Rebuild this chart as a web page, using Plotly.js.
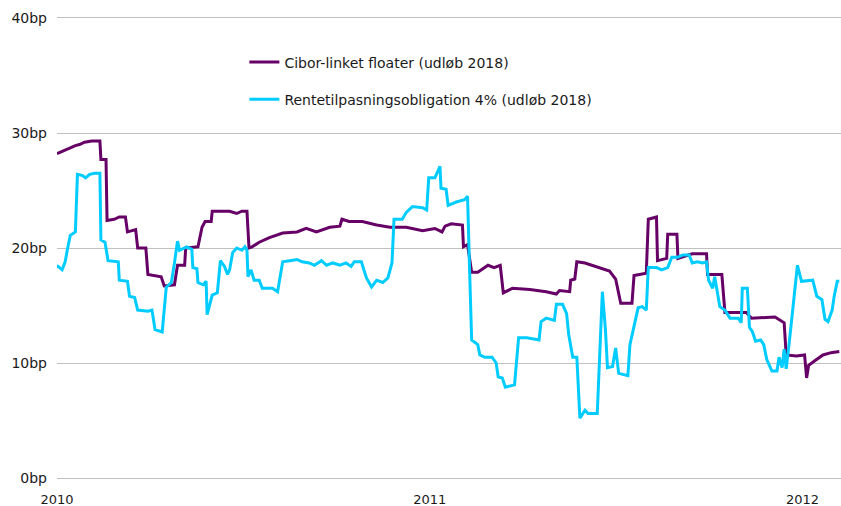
<!DOCTYPE html>
<html>
<head>
<meta charset="utf-8">
<script src="https://cdn.plot.ly/plotly-3.0.1.min.js"></script>
<style>html,body{margin:0;padding:0;background:#fff;}#chart{width:841px;height:506px;}</style>
</head>
<body>
<div id="chart"></div>
<script>
const ciborName = 'Cibor-linket floater (udløb 2018)';
const rteName = 'Rentetilpasningsobligation 4% (udløb 2018)';

const ciborDates = ['2010-01-01','2010-01-04','2010-01-09','2010-01-14','2010-01-19','2010-01-23','2010-01-28','2010-02-04','2010-02-12','2010-02-13','2010-02-18','2010-02-19','2010-02-26','2010-03-03','2010-03-09','2010-03-11','2010-03-19','2010-03-21','2010-03-29','2010-03-31','2010-04-13','2010-04-16','2010-04-26','2010-04-29','2010-05-06','2010-05-07','2010-05-19','2010-05-23','2010-05-26','2010-06-01','2010-06-02','2010-06-11','2010-06-19','2010-06-26','2010-07-01','2010-07-06','2010-07-08','2010-07-11','2010-07-18','2010-07-28','2010-08-10','2010-08-24','2010-09-02','2010-09-12','2010-09-25','2010-10-05','2010-10-07','2010-10-14','2010-10-27','2010-11-10','2010-11-23','2010-12-09','2010-12-25','2011-01-06','2011-01-13','2011-01-16','2011-01-22','2011-02-02','2011-02-03','2011-02-07','2011-02-11','2011-02-17','2011-02-27','2011-03-05','2011-03-11','2011-03-14','2011-03-23','2011-04-09','2011-04-25','2011-05-05','2011-05-08','2011-05-18','2011-05-19','2011-05-23','2011-05-25','2011-06-02','2011-06-09','2011-06-19','2011-06-26','2011-07-02','2011-07-07','2011-07-18','2011-07-20','2011-08-01','2011-08-03','2011-08-11','2011-08-12','2011-08-21','2011-08-22','2011-08-31','2011-09-01','2011-09-15','2011-09-29','2011-09-30','2011-10-14','2011-10-17','2011-11-07','2011-11-12','2011-11-28','2011-12-05','2011-12-14','2011-12-16','2011-12-26','2012-01-03','2012-01-05','2012-01-07','2012-01-13','2012-01-21','2012-01-29','2012-02-06'];
const ciborValues = [28.2,28.3,28.5,28.7,28.9,29.0,29.2,29.3,29.3,27.7,27.7,22.4,22.5,22.7,22.7,21.4,21.6,20.0,20.0,17.7,17.5,16.7,16.8,18.5,18.5,20.0,20.1,21.8,22.3,22.3,23.2,23.2,23.2,23.0,23.2,23.2,20.0,20.1,20.5,20.9,21.3,21.4,21.7,21.4,21.8,21.9,22.5,22.3,22.3,22.0,21.8,21.8,21.5,21.7,21.4,21.9,22.1,22.0,20.1,20.3,17.9,17.9,18.5,18.3,18.5,16.1,16.5,16.4,16.2,16.0,16.3,16.2,17.2,17.3,18.8,18.7,18.5,18.2,18.0,17.3,15.2,15.2,17.6,17.8,22.5,22.7,18.9,19.1,21.2,21.2,19.1,19.5,19.5,17.7,17.7,14.4,14.4,13.9,14.0,14.0,13.5,10.7,10.6,10.7,8.7,9.8,10.2,10.7,10.9,11.0];

const rteDates = ['2010-01-01','2010-01-02','2010-01-06','2010-01-09','2010-01-11','2010-01-14','2010-01-19','2010-01-21','2010-01-26','2010-01-29','2010-02-02','2010-02-07','2010-02-12','2010-02-13','2010-02-17','2010-02-20','2010-03-02','2010-03-03','2010-03-11','2010-03-13','2010-03-18','2010-03-21','2010-03-31','2010-04-04','2010-04-07','2010-04-14','2010-04-18','2010-04-23','2010-04-26','2010-04-29','2010-05-01','2010-05-08','2010-05-13','2010-05-14','2010-05-18','2010-05-19','2010-05-24','2010-05-27','2010-05-28','2010-05-31','2010-06-02','2010-06-07','2010-06-10','2010-06-14','2010-06-17','2010-06-19','2010-06-22','2010-06-26','2010-07-01','2010-07-04','2010-07-06','2010-07-07','2010-07-10','2010-07-13','2010-07-18','2010-07-21','2010-07-31','2010-08-05','2010-08-10','2010-08-17','2010-08-24','2010-08-29','2010-09-05','2010-09-10','2010-09-17','2010-09-22','2010-09-28','2010-10-05','2010-10-11','2010-10-16','2010-10-19','2010-10-26','2010-10-31','2010-11-05','2010-11-10','2010-11-16','2010-11-21','2010-11-25','2010-11-27','2010-12-05','2010-12-09','2010-12-15','2010-12-25','2010-12-29','2010-12-31','2011-01-06','2011-01-11','2011-01-12','2011-01-17','2011-01-19','2011-01-27','2011-02-04','2011-02-07','2011-02-09','2011-02-11','2011-02-17','2011-02-19','2011-02-24','2011-03-03','2011-03-07','2011-03-09','2011-03-13','2011-03-16','2011-03-25','2011-03-29','2011-04-06','2011-04-15','2011-04-18','2011-04-20','2011-04-25','2011-05-03','2011-05-05','2011-05-11','2011-05-15','2011-05-17','2011-05-21','2011-05-25','2011-05-28','2011-06-02','2011-06-05','2011-06-14','2011-06-15','2011-06-19','2011-06-22','2011-06-24','2011-06-29','2011-07-02','2011-07-05','2011-07-14','2011-07-16','2011-07-19','2011-07-24','2011-07-28','2011-08-01','2011-08-03','2011-08-11','2011-08-16','2011-08-22','2011-08-26','2011-09-01','2011-09-06','2011-09-12','2011-09-15','2011-09-20','2011-09-25','2011-09-29','2011-10-01','2011-10-05','2011-10-07','2011-10-10','2011-10-12','2011-10-17','2011-10-22','2011-10-30','2011-11-02','2011-11-03','2011-11-08','2011-11-10','2011-11-13','2011-11-16','2011-11-21','2011-11-24','2011-11-27','2011-12-02','2011-12-07','2011-12-09','2011-12-12','2011-12-14','2011-12-16','2011-12-19','2011-12-22','2011-12-27','2011-12-31','2012-01-11','2012-01-15','2012-01-20','2012-01-23','2012-01-26','2012-01-30','2012-02-01','2012-02-04','2012-02-06'];
const rteValues = [18.3,18.4,18.1,18.8,19.8,21.1,21.4,26.4,26.3,26.1,26.4,26.5,26.5,20.7,20.5,18.9,18.8,17.2,17.1,15.8,15.7,14.6,14.5,14.6,12.9,12.7,16.6,17.0,18.7,20.6,19.8,20.1,19.9,18.3,18.2,17.0,16.8,17.1,14.2,15.3,15.9,16.1,18.9,18.4,17.7,18.1,19.6,20.0,19.8,20.1,19.8,17.5,18.1,17.2,17.2,16.5,16.5,16.2,18.8,18.9,19.0,18.8,18.7,18.5,18.9,18.5,18.7,18.5,18.7,18.4,18.8,18.8,17.4,16.6,17.2,17.0,17.4,18.7,22.5,22.5,23.1,23.6,23.5,23.3,26.1,26.1,27.1,25.2,25.1,23.7,24.0,24.2,24.5,18.1,12.0,11.6,10.7,10.5,10.5,10.0,8.8,8.7,7.9,8.1,12.2,12.2,12.0,12.0,13.6,13.9,13.7,15.1,15.1,14.3,12.5,10.5,10.5,5.2,5.9,5.6,5.6,7.7,16.2,12.9,9.6,9.7,11.3,9.1,8.9,11.6,12.7,14.8,14.9,14.6,18.3,18.3,18.1,18.3,19.2,19.2,19.4,19.4,18.7,18.8,18.7,18.8,17.2,16.5,17.5,16.1,14.9,14.6,13.9,13.9,13.5,16.5,16.5,13.1,12.7,11.9,12.0,11.6,10.3,9.3,9.3,10.5,9.6,11.2,9.5,11.8,14.4,18.5,17.1,17.2,15.8,15.5,13.8,13.6,14.6,15.8,17.1,17.1];

const yTicks = [0, 10, 20, 30, 40];
const yTickLabels = ['0bp', '10bp', '20bp', '30bp', '40bp'];
const xTicks = ['2010-01-01', '2011-01-01', '2012-01-01'];
const xTickLabels = ['2010', '2011', '2012'];

const fontFamily = 'Verdana, "DejaVu Sans", sans-serif';
const gridColor = '#c0c0c0';

const traces = [
  {x: ciborDates, y: ciborValues, name: ciborName, type: 'scatter', mode: 'lines',
   line: {color: '#660066', width: 3}, legendgroup: 'a'},
  {x: rteDates, y: rteValues, name: rteName, type: 'scatter', mode: 'lines',
   line: {color: '#00ccff', width: 3}, legendgroup: 'b'}
];

const layout = {
  width: 841, height: 506,
  margin: {l: 57, r: 0, t: 18, b: 28, pad: 0},
  paper_bgcolor: '#ffffff', plot_bgcolor: '#ffffff',
  font: {family: fontFamily, size: 13, color: '#1a1a1a'},
  showlegend: true,
  hovermode: false,
  legend: {x: 0.239, y: 0.938, xanchor: 'left', yanchor: 'top',
           font: {family: fontFamily, size: 14, color: '#1a1a1a'},
           bgcolor: 'rgba(0,0,0,0)', tracegroupgap: 16, traceorder: 'grouped'},
  xaxis: {type: 'date', range: ['2010-01-01', '2012-02-07 16:00'],
          tickvals: xTicks, ticktext: xTickLabels, showgrid: false, zeroline: false,
          showline: true, mirror: true, linecolor: gridColor, linewidth: 1,
          ticks: '', tickfont: {size: 13}, ticklabelstandoff: 9},
  yaxis: {range: [0, 40], tickvals: yTicks, ticktext: yTickLabels,
          showgrid: true, gridcolor: gridColor, gridwidth: 1, zeroline: false,
          showline: false, ticks: '', tickfont: {size: 14}, ticklabelstandoff: 9}
};

Plotly.newPlot('chart', traces, layout, {staticPlot: true, displayModeBar: false});
</script>
</body>
</html>
